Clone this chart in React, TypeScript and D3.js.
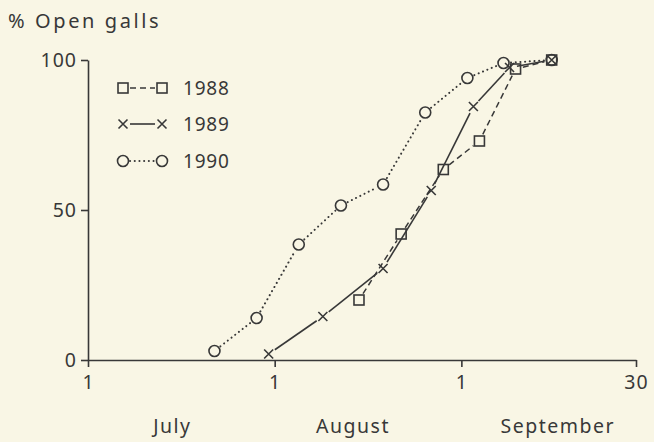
import React, { useEffect, useRef } from 'react';
import * as d3 from 'd3';

const parseDay = d3.timeParse('%b %d');

// sampling dates and % open galls per year
const dates1988 = ['Aug 15', 'Aug 22', 'Aug 29', 'Sep 4', 'Sep 10', 'Sep 16'];
const values1988 = [20, 42, 63.5, 73, 97, 100];
const dates1989 = ['Jul 31', 'Aug 9', 'Aug 19', 'Aug 27', 'Sep 3', 'Sep 9', 'Sep 16'];
const values1989 = [2, 14.5, 30.5, 56.5, 84.5, 97.5, 100];
const dates1990 = ['Jul 22', 'Jul 29', 'Aug 5', 'Aug 12', 'Aug 19', 'Aug 26', 'Sep 2', 'Sep 8', 'Sep 16'];
const values1990 = [3, 14, 38.5, 51.5, 58.5, 82.5, 94, 99, 100];

const seriesNames = ['1988', '1989', '1990'];
const xTickDates = ['Jul 1', 'Aug 1', 'Sep 1', 'Sep 30'];
const xTickLabels = ['1', '1', '1', '30'];
const monthNames = ['July', 'August', 'September'];
const monthDates = ['Jul 15', 'Aug 14', 'Sep 17'];
const yTicks = [0, 50, 100];

const INK = '#383838';
const BG = '#f9f6e5';
const FONT = '"Noto Sans", "DejaVu Sans", sans-serif';

const App = () => {
  const svgRef = useRef(null);

  useEffect(() => {
    const svg = d3.select(svgRef.current);
    svg.selectAll('*').remove();

    const width = 654;
    const height = 442;

    const x = d3.scaleTime()
      .domain([parseDay('Jul 1'), parseDay('Sep 30')])
      .range([88, 636]);
    const y = d3.scaleLinear().domain([0, 100]).range([360, 60]);

    svg.append('rect').attr('width', width).attr('height', height).attr('fill', BG);

    // title
    svg.append('text')
      .attr('x', 8).attr('y', 28)
      .attr('font-size', 20).attr('letter-spacing', 2.6)
      .attr('font-family', FONT).attr('fill', INK)
      .text('% Open galls');

    // axes
    const yAxis = svg.append('g')
      .attr('transform', `translate(${x.range()[0]},0)`)
      .call(d3.axisLeft(y).tickValues(yTicks).tickSize(7).tickSizeOuter(0).tickPadding(4));
    const xAxis = svg.append('g')
      .attr('transform', `translate(0,${y(0)})`)
      .call(d3.axisBottom(x)
        .tickValues(xTickDates.map(d => parseDay(d)))
        .tickFormat((d, i) => xTickLabels[i])
        .tickSize(7).tickSizeOuter(0).tickPadding(8));
    [yAxis, xAxis].forEach(g => {
      g.selectAll('path, line').attr('stroke', INK).attr('stroke-width', 1.6);
      g.selectAll('text').attr('font-size', 19.5).attr('letter-spacing', 1)
        .attr('font-family', FONT).attr('fill', INK);
    });

    svg.append('g').selectAll('text')
      .data(monthNames)
      .join('text')
      .attr('x', (d, i) => x(parseDay(monthDates[i])))
      .attr('y', 433)
      .attr('text-anchor', 'middle')
      .attr('font-size', 19.5).attr('letter-spacing', 1.5)
      .attr('font-family', FONT).attr('fill', INK)
      .text(d => d);

    const styles = [
      { dash: '6 4', cap: 'butt', width: 1.5, marker: 'square' },
      { dash: null, cap: 'butt', width: 1.6, marker: 'cross' },
      { dash: '0.1 4.6', cap: 'round', width: 2, marker: 'circle' },
    ];

    const drawMarker = (g, px, py, kind) => {
      if (kind === 'square') {
        g.append('rect').attr('x', px - 5).attr('y', py - 5).attr('width', 10).attr('height', 10)
          .attr('fill', 'none').attr('stroke', INK).attr('stroke-width', 1.6);
      } else if (kind === 'circle') {
        g.append('circle').attr('cx', px).attr('cy', py).attr('r', 5.5)
          .attr('fill', 'none').attr('stroke', INK).attr('stroke-width', 1.6);
      } else {
        g.append('path')
          .attr('d', `M${px - 4.5},${py - 4.5}L${px + 4.5},${py + 4.5}M${px - 4.5},${py + 4.5}L${px + 4.5},${py - 4.5}`)
          .attr('stroke', INK).attr('stroke-width', 1.6);
      }
    };

    // line pieces stop short of the markers
    const drawGapped = (g, pts, st, gap) => {
      for (let i = 1; i < pts.length; i++) {
        const [x0, y0] = pts[i - 1];
        const [x1, y1] = pts[i];
        const len = Math.hypot(x1 - x0, y1 - y0);
        if (len <= gap * 2 + 1) continue;
        const ux = (x1 - x0) / len, uy = (y1 - y0) / len;
        g.append('line')
          .attr('x1', x0 + ux * gap).attr('y1', y0 + uy * gap)
          .attr('x2', x1 - ux * gap).attr('y2', y1 - uy * gap)
          .attr('stroke', INK).attr('stroke-width', st.width)
          .attr('stroke-linecap', st.cap)
          .attr('stroke-dasharray', st.dash);
      }
    };

    const allDates = [dates1988, dates1989, dates1990];
    const allValues = [values1988, values1989, values1990];

    allDates.forEach((dates, s) => {
      const g = svg.append('g');
      const pts = dates.map((d, i) => [x(parseDay(d)), y(allValues[s][i])]);
      drawGapped(g, pts, styles[s], 7.5);
      pts.forEach(([px, py]) => drawMarker(g, px, py, styles[s].marker));
    });

    // legend
    const legendY = [88, 124, 161];
    seriesNames.forEach((name, s) => {
      const g = svg.append('g');
      const ly = legendY[s];
      drawGapped(g, [[123, ly], [162, ly]], styles[s], 7);
      drawMarker(g, 123, ly, styles[s].marker);
      drawMarker(g, 162, ly, styles[s].marker);
      g.append('text')
        .attr('x', 183).attr('y', ly).attr('dy', '0.36em')
        .attr('font-size', 19).attr('letter-spacing', 0.8)
        .attr('font-family', FONT).attr('fill', INK)
        .text(name);
    });
  }, []);

  return (
    <svg
      ref={svgRef}
      width={654}
      height={442}
      style={{ position: 'absolute', left: 0, top: 0, display: 'block' }}
    />
  );
};

export default App;
